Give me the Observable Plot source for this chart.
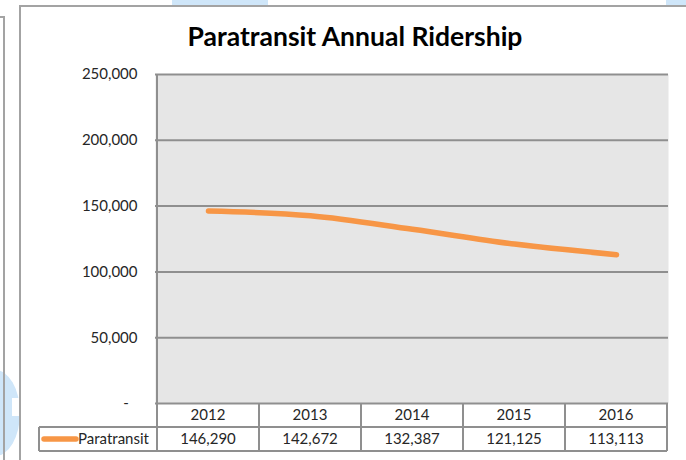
<!DOCTYPE html>
<html><head><meta charset="utf-8">
<script src="https://cdn.jsdelivr.net/npm/d3@7"></script>
<script src="https://cdn.jsdelivr.net/npm/@observablehq/plot@0.6"></script>
<style>
html,body{margin:0;padding:0;background:#fff;}
#wrap{position:relative;width:686px;height:460px;overflow:hidden;font-family:Lato,sans-serif;}
.deco{position:absolute;}
#title{position:absolute;left:0;width:710px;top:23px;line-height:1;text-align:center;font-weight:bold;font-size:26.5px;color:#000;white-space:nowrap;}
#chart{position:absolute;left:0;top:0;}
</style></head><body>
<div id="wrap">
  <div class="deco" style="left:172px;top:0;width:96px;height:6px;background:#cfe6f9"></div>
  <div class="deco" style="left:666px;top:0;width:20px;height:6px;background:#cfe6f9"></div>
  <div class="deco" style="left:-30px;top:370px;width:50px;height:86px;border-radius:50%;background:#cfe6f9"></div>
  <div class="deco" style="left:12px;top:398px;width:10px;height:18px;background:#fff"></div>
  <div class="deco" style="left:3px;top:16px;width:2px;height:444px;background:#a3a3a3"></div>
  <div class="deco" style="left:0;top:16px;width:5px;height:2px;background:#a3a3a3"></div>
  <div class="deco" style="left:19px;top:6px;width:667px;height:454px;background:#fff"></div>
  <div class="deco" style="left:19px;top:5px;width:667px;height:2px;background:#a3a3a3"></div>
  <div class="deco" style="left:19px;top:5px;width:2px;height:455px;background:#a3a3a3"></div>
  <div id="chart"></div>
  <div id="title">Paratransit Annual Ridership</div>
</div>
<script>
const years = ["2012", "2013", "2014", "2015", "2016"];
const riders = [146290, 142672, 132387, 121125, 113113];
const yTicks = [0, 50000, 100000, 150000, 200000, 250000];
const seriesName = "Paratransit";

const data = years.map((y, i) => ({year: y, riders: riders[i]}));
const orange = "#F79646";
const gridColor = "#8f8f8f";
const fmt = d3.format(",");

const plot = Plot.plot({
  width: 686,
  height: 460,
  marginLeft: 155,
  marginRight: 18,
  marginTop: 74,
  marginBottom: 57,
  style: {fontFamily: "Lato, sans-serif", fontSize: "15px", background: "transparent", color: "#262626"},
  x: {type: "point", domain: years, padding: 0.5, axis: null},
  y: {domain: [0, 250000], axis: null},
  marks: [
    Plot.frame({fill: "#e6e6e6", stroke: "none"}),
    Plot.ruleY(yTicks, {stroke: gridColor, strokeWidth: 2}),
    Plot.axisY(yTicks, {tickSize: 0, tickPadding: 18, fontSize: 15, fill: "#262626", label: null,
      tickFormat: d => d === 0 ? "-\u2007" : fmt(d)}),
    Plot.line(data, {x: "year", y: "riders", stroke: orange, strokeWidth: 5.5,
      strokeLinecap: "round", strokeLinejoin: "round", curve: "catmull-rom"})
  ]
});
document.getElementById("chart").appendChild(plot);

// Data table under the plot, positioned through Plot's own scales
const xs = plot.scale("x");
const ys = plot.scale("y");
const step = xs.step;
const yBase = ys.apply(0);
const yTop = ys.apply(250000);
const rowH = 24;
const left0 = xs.apply(years[0]) - step / 2;
const right0 = xs.apply(years[years.length - 1]) + step / 2;
const legendLeft = 39;
const svg = d3.select(plot);
const g = svg.append("g").attr("fill", "none").attr("stroke", gridColor).attr("stroke-width", 2);
g.append("line").attr("x1", left0).attr("x2", left0).attr("y1", yTop).attr("y2", yBase + 2 * rowH);
g.append("line").attr("x1", legendLeft).attr("x2", right0).attr("y1", yBase + rowH).attr("y2", yBase + rowH);
g.append("line").attr("x1", legendLeft).attr("x2", right0).attr("y1", yBase + 2 * rowH).attr("y2", yBase + 2 * rowH);
g.append("line").attr("x1", legendLeft).attr("x2", legendLeft).attr("y1", yBase + rowH).attr("y2", yBase + 2 * rowH);
years.forEach(y => {
  const xr = xs.apply(y) + step / 2;
  g.append("line").attr("x1", xr).attr("x2", xr).attr("y1", yBase).attr("y2", yBase + 2 * rowH);
});
const t = svg.append("g").attr("font-family", "Lato, sans-serif").attr("font-size", 15).attr("fill", "#262626").attr("text-anchor", "middle");
years.forEach((y, i) => {
  t.append("text").attr("x", xs.apply(y)).attr("y", yBase + rowH / 2).attr("dy", "0.35em").text(y);
  t.append("text").attr("x", xs.apply(y)).attr("y", yBase + rowH * 1.5).attr("dy", "0.35em").text(fmt(riders[i]));
});
svg.append("line").attr("x1", 44).attr("x2", 76).attr("y1", yBase + rowH * 1.5).attr("y2", yBase + rowH * 1.5)
  .attr("stroke", orange).attr("stroke-width", 5.5).attr("stroke-linecap", "round");
t.append("text").attr("x", 78).attr("y", yBase + rowH * 1.5).attr("dy", "0.35em").attr("text-anchor", "start").text(seriesName);
</script>
</body></html>
